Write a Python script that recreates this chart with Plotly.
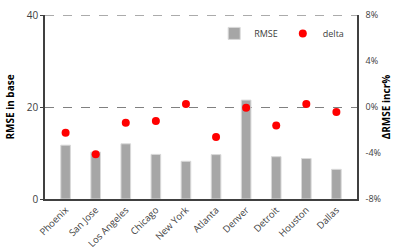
import plotly.graph_objects as go

cities = ["Phoenix", "San Jose", "Los Angeles", "Chicago", "New York",
          "Atlanta", "Denver", "Detroit", "Houston", "Dallas"]
rmse = [11.7, 10.2, 12.0, 9.7, 8.2, 9.65, 21.5, 9.2, 8.8, 6.45]
delta = [-2.23, -4.11, -1.36, -1.22, 0.26, -2.6, -0.06, -1.6, 0.26, -0.43]
left_ticks = [0, 20, 40]
right_ticks = [-8, -4, 0, 4, 8]
right_labels = ["-8%", "-4%", "0%", "4%", "8%"]

FONT = "Open Sans"

fig = go.Figure()
fig.add_trace(go.Bar(
    x=cities, y=rmse, name="RMSE",
    marker=dict(color="#a6a6a6", line=dict(color="#d9d9d9", width=1)),
    width=0.32,
))
fig.add_trace(go.Scatter(
    x=cities, y=delta, name="delta", yaxis="y2", mode="markers",
    marker=dict(color="#ff0000", size=8),
))

# dashed gridline at the top tick (coincides with the plot top edge)
fig.add_shape(type="line", xref="paper", x0=0, x1=1, yref="y", y0=left_ticks[-1], y1=left_ticks[-1],
              line=dict(color="#595959", width=1, dash="dash"), layer="above")

fig.update_layout(
    width=403, height=250,
    margin=dict(l=45, r=46, t=15, b=51, autoexpand=False),
    paper_bgcolor="white", plot_bgcolor="white",
    font=dict(family=FONT, size=9, color="#404040"),
    showlegend=True,
    legend=dict(orientation="h", x=0.975, y=0.90, xanchor="right", yanchor="middle",
                bgcolor="rgba(0,0,0,0)", font=dict(size=9, color="#404040"),
                itemwidth=30, tracegroupgap=0),
    xaxis=dict(
        tickangle=-45, showline=True, linecolor="#404040", linewidth=1.5,
        mirror=False, ticks="", showgrid=False, automargin=False,
        tickfont=dict(size=9.5, color="#404040"),
    ),
    yaxis=dict(
        range=[0, 40], tickvals=left_ticks, showline=True, linecolor="#404040",
        linewidth=1.5, ticks="outside", ticklen=3, tickcolor="#404040",
        showgrid=True, gridcolor="#808080", griddash="dash", gridwidth=1,
        zeroline=False, automargin=False,
        title=dict(text="<b>RMSE in base</b>", font=dict(size=10, color="#000000"), standoff=10),
        tickfont=dict(size=10, color="#404040"),
    ),
    yaxis2=dict(
        range=[-8, 8], tickvals=right_ticks, ticktext=right_labels,
        overlaying="y", side="right", showline=True, linecolor="#404040",
        linewidth=1.5, ticks="outside", ticklen=5, tickcolor="rgba(0,0,0,0)",
        showgrid=False, zeroline=False, automargin=False,
        title=dict(text="<b>ΔRMSE incr%</b>", font=dict(size=10, color="#000000"), standoff=3),
        tickfont=dict(size=9, color="#404040"),
    ),
)

fig.write_html("out.html", config={"displayModeBar": False},
               post_script="document.body.style.margin='0px';")
